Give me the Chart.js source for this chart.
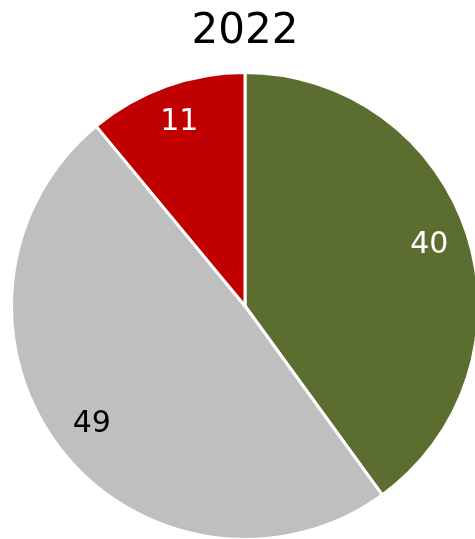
<!DOCTYPE html>
<html>
<head>
<meta charset="utf-8">
<script src="https://cdn.jsdelivr.net/npm/chart.js@4"></script>
<style>
    html, body { margin: 0; padding: 0; background: #fff; overflow: hidden; }
    .wrap { width: 490px; height: 541px; position: relative; }
</style>
</head>
<body>
<div class="wrap"><canvas id="chart"></canvas></div>
<script>
const title = '2022';
const categories = ['A', 'B', 'C'];
const values = [40, 49, 11];
const colors = ['#5B6E2F', '#BFBFBF', '#C00000'];
const labelColors = ['#ffffff', '#000000', '#ffffff'];

// draw value labels inside each slice
const sliceLabels = {
    id: 'sliceLabels',
    afterDatasetsDraw(chart) {
        const ctx = chart.ctx;
        const meta = chart.getDatasetMeta(0);
        ctx.save();
        ctx.font = '30px "DejaVu Sans", Verdana, sans-serif';
        ctx.textAlign = 'center';
        ctx.textBaseline = 'middle';
        meta.data.forEach((arc, i) => {
            const mid = (arc.startAngle + arc.endAngle) / 2;
            const r = arc.outerRadius * 0.83;
            ctx.fillStyle = labelColors[i];
            ctx.fillText(String(values[i]), arc.x + Math.cos(mid) * r, arc.y + Math.sin(mid) * r - 1);
        });
        ctx.restore();
    }
};

new Chart(document.getElementById('chart'), {
    type: 'pie',
    data: {
        labels: categories,
        datasets: [{
            data: values,
            backgroundColor: colors,
            borderColor: '#ffffff',
            borderWidth: 3,
            hoverOffset: 0
        }]
    },
    options: {
        responsive: true,
        maintainAspectRatio: false,
        animation: false,
        layout: { padding: { left: 10, right: 10, top: 0, bottom: 0 } },
        plugins: {
            legend: { display: false },
            tooltip: { enabled: false },
            title: {
                display: true,
                text: title,
                color: '#000000',
                font: { family: '"DejaVu Sans", Verdana, sans-serif', size: 42, weight: 'normal' },
                padding: { top: 7, bottom: 13.6 }
            }
        }
    },
    plugins: [sliceLabels]
});
</script>
</body>
</html>
